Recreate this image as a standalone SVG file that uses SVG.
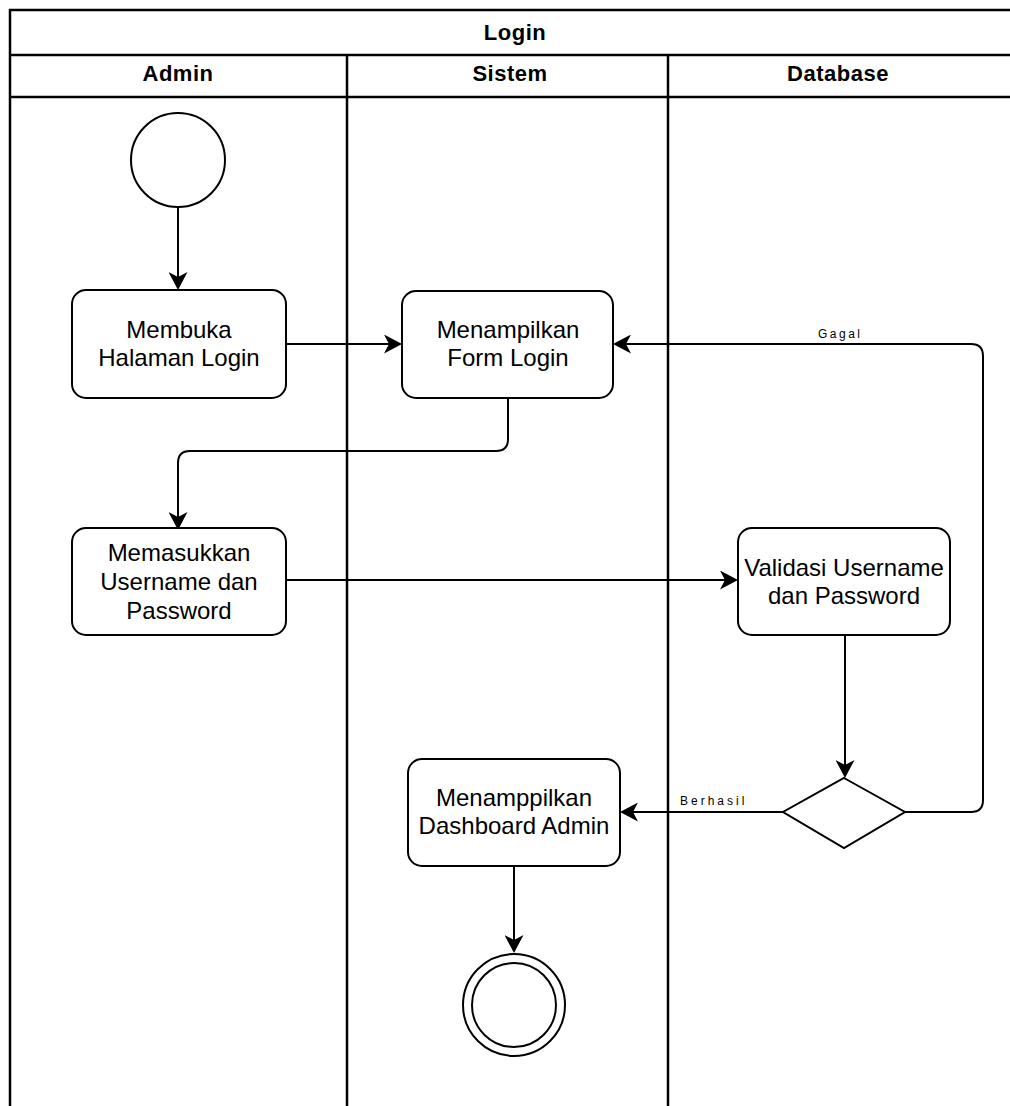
<svg xmlns="http://www.w3.org/2000/svg" width="1010" height="1106" viewBox="0 0 1010 1106">
  <style>
    .pool { fill: none; stroke: #000; stroke-width: 2.5; }
    .lane { fill: none; stroke: #000; stroke-width: 2.5; }
    .hdr { font-family: "Liberation Sans", Arial, sans-serif; font-weight: bold; font-size: 22px; letter-spacing: 0.5px; text-anchor: middle; fill: #000; }
    .node { fill: #fff; stroke: #000; stroke-width: 2; }
    .lbl { font-family: "Liberation Sans", Arial, sans-serif; font-size: 24px; text-anchor: middle; fill: #000; }
    .edge { fill: none; stroke: #000; stroke-width: 2; marker-end: url(#arrow); }
    .elbl { font-family: "Liberation Sans", Arial, sans-serif; font-size: 12px; fill: #000; }
  </style>
  <defs>
    <!-- classic notched arrowhead; reference point sits at the notch -->
    <marker id="arrow" markerUnits="userSpaceOnUse" markerWidth="19" markerHeight="19" refX="5" refY="9.5" orient="auto">
      <path d="M0,0 L18,9.5 L0,19 L5,9.5 Z" fill="#000"/>
    </marker>
  </defs>
  <rect width="1010" height="1106" fill="#fff"/>

  <!-- swimlane pool -->
  <g id="pool">
    <path class="pool" d="M10,1106 V10 H1014 V1106"/>
    <line class="lane" x1="10" y1="55" x2="1014" y2="55"/>
    <line class="lane" x1="10" y1="97" x2="1014" y2="97"/>
    <line class="lane" x1="347" y1="55" x2="347" y2="1106"/>
    <line class="lane" x1="668" y1="55" x2="668" y2="1106"/>
    <text class="hdr" x="515" y="40">Login</text>
    <text class="hdr" x="178" y="81">Admin</text>
    <text class="hdr" x="510" y="81">Sistem</text>
    <text class="hdr" x="838" y="81">Database</text>
  </g>

  <!-- connectors -->
  <g id="connectors">
    <path class="edge" d="M178,207 V277"/>
    <path class="edge" d="M286,344 H389"/>
    <path class="edge" d="M508,398 V439 Q508,451 496,451 H190 Q178,451 178,463 V517"/>
    <path class="edge" d="M286,580 H725"/>
    <path class="edge" d="M845,636 V765"/>
    <path class="edge" d="M783,812 H633"/>
    <path class="edge" d="M905,812 H971 Q983,812 983,800 V356 Q983,344 971,344 H626"/>
    <path class="edge" d="M514,866 V940"/>
    <text class="elbl" x="818" y="338" letter-spacing="2.5">Gagal</text>
    <text class="elbl" x="680" y="805" letter-spacing="3">Berhasil</text>
  </g>

  <g id="start">
    <circle class="node" cx="178" cy="160" r="47"/>
  </g>

  <g id="membuka">
    <rect class="node" x="72" y="290" width="214" height="108" rx="14"/>
    <text class="lbl" x="179" y="338">Membuka</text>
    <text class="lbl" x="179" y="366">Halaman Login</text>
  </g>

  <g id="form-login">
    <rect class="node" x="402" y="291" width="211" height="107" rx="14"/>
    <text class="lbl" x="508" y="338">Menampilkan</text>
    <text class="lbl" x="508" y="366">Form Login</text>
  </g>

  <g id="memasukkan">
    <rect class="node" x="72" y="528" width="214" height="107" rx="14"/>
    <text class="lbl" x="179" y="561">Memasukkan</text>
    <text class="lbl" x="179" y="590">Username dan</text>
    <text class="lbl" x="179" y="619">Password</text>
  </g>

  <g id="validasi">
    <rect class="node" x="738" y="528" width="212" height="107" rx="14"/>
    <text class="lbl" x="844" y="576">Validasi Username</text>
    <text class="lbl" x="844" y="604">dan Password</text>
  </g>

  <g id="decision">
    <polygon class="node" points="844,778 905,812 844,848 783,812"/>
  </g>

  <g id="dashboard">
    <rect class="node" x="408" y="759" width="212" height="107" rx="14"/>
    <text class="lbl" x="514" y="806">Menamppilkan</text>
    <text class="lbl" x="514" y="834">Dashboard Admin</text>
  </g>

  <g id="end">
    <circle class="node" cx="514" cy="1005" r="51"/>
    <circle class="node" cx="514" cy="1005" r="42"/>
  </g>
</svg>
